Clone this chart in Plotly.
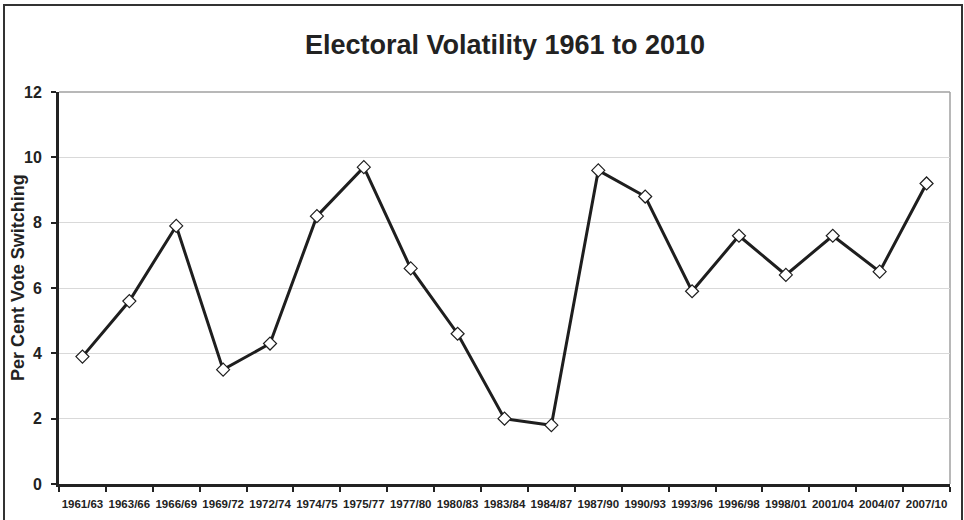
import plotly.graph_objects as go

periods = ["1961/63", "1963/66", "1966/69", "1969/72", "1972/74", "1974/75", "1975/77",
           "1977/80", "1980/83", "1983/84", "1984/87", "1987/90", "1990/93", "1993/96",
           "1996/98", "1998/01", "2001/04", "2004/07", "2007/10"]
volatility = [3.9, 5.6, 7.9, 3.5, 4.3, 8.2, 9.7, 6.6, 4.6, 2.0, 1.8, 9.6, 8.8, 5.9,
              7.6, 6.4, 7.6, 6.5, 9.2]
y_ticks = [0, 2, 4, 6, 8, 10, 12]

FONT = "Liberation Sans, Arial, sans-serif"

fig = go.Figure()
fig.add_trace(go.Scatter(
    x=periods, y=volatility, mode="lines+markers",
    line=dict(color="#1e1e1e", width=3),
    marker=dict(symbol="diamond", size=10, color="white",
                line=dict(color="#1e1e1e", width=1.2)),
    showlegend=False, cliponaxis=False,
))

L, R, T, B = 59, 14, 92, 36
W, H = 964, 520
pw, ph = W - L - R, H - T - B

def px(x):
    return (x - L) / pw

def py(y):
    return (H - B - y) / ph

fig.update_layout(
    width=W, height=H,
    margin=dict(l=L, r=R, t=T, b=B, autoexpand=False),
    paper_bgcolor="white", plot_bgcolor="white",
    font=dict(family=FONT, color="#222"),
    title=dict(text="Electoral Volatility 1961 to 2010",
               x=px(505), xref="paper", xanchor="center",
               y=1 - 45 / H, yanchor="middle",
               font=dict(size=27, color="#222", family=FONT, weight="bold")),
    xaxis=dict(
        type="category", tickson="boundaries",
        ticks="outside", ticklen=5, tickwidth=2, tickcolor="#222",
        showline=True, linecolor="#222", linewidth=3,
        showgrid=False, zeroline=False,
        tickangle=0,
        tickfont=dict(size=11.5, color="#222", family=FONT, weight="bold"),
        ticklabelstandoff=7,
        range=[-0.5, len(periods) - 0.5],
    ),
    yaxis=dict(
        range=[0, 12], tickvals=y_ticks,
        ticks="outside", ticklen=5, tickwidth=2, tickcolor="#222",
        showline=True, linecolor="#222", linewidth=3,
        showgrid=True, gridcolor="#d9d9d9", gridwidth=1,
        zeroline=False,
        tickfont=dict(size=16, color="#222", family=FONT, weight="bold"),
        ticklabelstandoff=6,
    ),
    annotations=[
        dict(text="Per Cent Vote Switching", textangle=-90,
             xref="paper", yref="paper", x=px(18), y=py(278),
             xanchor="center", yanchor="middle", showarrow=False,
             font=dict(size=18, color="#222", family=FONT, weight="bold")),
    ],
    shapes=[
        dict(type="line", xref="paper", yref="paper", x0=0, x1=1, y0=1, y1=1,
             line=dict(color="#a0a0a0", width=1.5), layer="below"),
        dict(type="line", xref="paper", yref="paper", x0=1, x1=1, y0=0, y1=1,
             line=dict(color="#a0a0a0", width=1.5), layer="below"),
        dict(type="rect", xref="paper", yref="paper",
             x0=px(4), x1=px(962), y0=py(5), y1=py(530),
             line=dict(color="#333", width=2), fillcolor="rgba(0,0,0,0)"),
    ],
)

fig.write_html("out.html")
